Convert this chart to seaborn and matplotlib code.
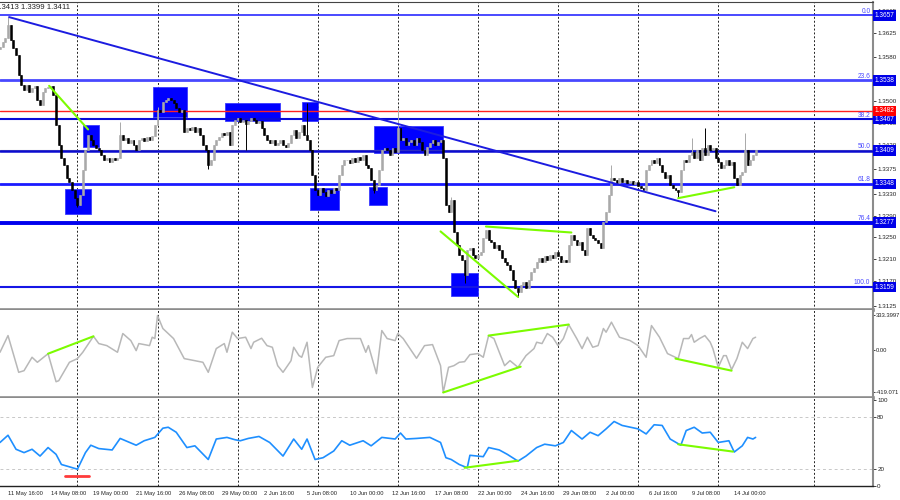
import numpy as np
import pandas as pd
import matplotlib
matplotlib.use("Agg")
import matplotlib.pyplot as plt
import matplotlib.transforms as mtransforms
from matplotlib.patches import Rectangle
import seaborn as sns

# ---------------- data ----------------
closes = [
    1.3599, 1.3608, 1.3616, 1.3640, 1.3612, 1.3597, 1.3585, 1.3548, 1.3530, 1.3520,
    1.3530, 1.3517, 1.3524, 1.3528, 1.3502, 1.3493, 1.3517, 1.3524, 1.3526, 1.3528,
    1.3511, 1.3456, 1.3420, 1.3396, 1.3383, 1.3359, 1.3352, 1.3337, 1.3322, 1.3309,
    1.3328, 1.3374, 1.3410, 1.3438, 1.3429, 1.3420, 1.3414, 1.3410, 1.3401, 1.3392,
    1.3396, 1.3388, 1.3396, 1.3392, 1.3396, 1.3438, 1.3429, 1.3432, 1.3423, 1.3429,
    1.3420, 1.3410, 1.3429, 1.3432, 1.3427, 1.3434, 1.3429, 1.3436, 1.3456, 1.3484,
    1.3480, 1.3498, 1.3502, 1.3506, 1.3502, 1.3497, 1.3487, 1.3480, 1.3484, 1.3443,
    1.3451, 1.3447, 1.3453, 1.3443, 1.3451, 1.3438, 1.3420, 1.3410, 1.3383, 1.3392,
    1.3420, 1.3429, 1.3434, 1.3441, 1.3438, 1.3443, 1.3420, 1.3456, 1.3465, 1.3469,
    1.3462, 1.3465, 1.3458, 1.3463, 1.3469, 1.3465, 1.3460, 1.3463, 1.3451, 1.3438,
    1.3429, 1.3423, 1.3429, 1.3420, 1.3423, 1.3429, 1.3420, 1.3416, 1.3423, 1.3438,
    1.3447, 1.3432, 1.3443, 1.3456, 1.3438, 1.3429, 1.3410, 1.3364, 1.3337, 1.3328,
    1.3341, 1.3333, 1.3326, 1.3337, 1.3331, 1.3341, 1.3337, 1.3364, 1.3383, 1.3392,
    1.3392, 1.3386, 1.3396, 1.3388, 1.3397, 1.3392, 1.3401, 1.3383, 1.3377, 1.3355,
    1.3337, 1.3346, 1.3374, 1.3410, 1.3414, 1.3410, 1.3401, 1.3414, 1.3407, 1.3451,
    1.3429, 1.3432, 1.3420, 1.3425, 1.3429, 1.3420, 1.3432, 1.3425, 1.3410, 1.3401,
    1.3416, 1.3423, 1.3429, 1.3420, 1.3425, 1.3429, 1.3396, 1.3309, 1.3297, 1.3319,
    1.3260, 1.3236, 1.3218, 1.3209, 1.3181, 1.3227, 1.3231, 1.3218, 1.3212, 1.3218,
    1.3223, 1.3249, 1.3264, 1.3245, 1.3242, 1.3231, 1.3236, 1.3227, 1.3212, 1.3205,
    1.3199, 1.3190, 1.3172, 1.3157, 1.3150, 1.3163, 1.3168, 1.3157, 1.3172, 1.3187,
    1.3194, 1.3205, 1.3212, 1.3205, 1.3216, 1.3209, 1.3218, 1.3212, 1.3223, 1.3216,
    1.3205, 1.3209, 1.3205, 1.3236, 1.3254, 1.3245, 1.3236, 1.3242, 1.3227, 1.3218,
    1.3267, 1.3254, 1.3249, 1.3245, 1.3240, 1.3231, 1.3278, 1.3297, 1.3328, 1.3359,
    1.3355, 1.3350, 1.3359, 1.3352, 1.3355, 1.3350, 1.3353, 1.3348, 1.3352, 1.3344,
    1.3341, 1.3337, 1.3374, 1.3383, 1.3392, 1.3386, 1.3396, 1.3383, 1.3370, 1.3359,
    1.3364, 1.3346, 1.3341, 1.3337, 1.3333, 1.3374, 1.3392, 1.3388, 1.3401, 1.3407,
    1.3396, 1.3410, 1.3392, 1.3414, 1.3401, 1.3420, 1.3410, 1.3414, 1.3396, 1.3388,
    1.3377, 1.3383, 1.3392, 1.3383, 1.3388, 1.3359, 1.3346, 1.3364, 1.3370, 1.3410,
    1.3383, 1.3392, 1.3401, 1.3411,
]
first_open = 1.3596
wick_hi_idx = [3, 45, 59, 115, 149, 169, 229, 259, 264, 279]
wick_hi_val = [1.3654, 1.3462, 1.3490, 1.3496, 1.3488, 1.3324, 1.3383, 1.3432, 1.3451, 1.3441]
wick_lo_idx = [29, 78, 92, 140, 174, 194, 254]
wick_lo_val = [1.3305, 1.3376, 1.3410, 1.3332, 1.3166, 1.3141, 1.3322]

fib_levels = [1.3657, 1.3538, 1.3467, 1.3409, 1.3348, 1.3277, 1.3159]
fib_names = ["0.0", "23.6", "38.2", "50.0", "61.8", "76.4", "100.0"]
fib_widths = [1.2, 2.0, 1.5, 1.8, 2.0, 2.8, 1.5]
red_level = 1.3482
bid_level = 1.3411
price_ticks = [1.3665, 1.3625, 1.3580, 1.3500, 1.3460, 1.3420,
               1.3375, 1.3330, 1.3290, 1.3250, 1.3210, 1.3170, 1.3125]

box_x0 = [24.3, 31.1, 57.3, 84.3, 113.1, 116.1, 138.2, 140.1, 168.9]
box_x1 = [34.1, 37.1, 70.0, 104.9, 119.1, 127.0, 144.9, 165.9, 179.0]
box_lo = [1.3293, 1.3416, 1.3471, 1.3463, 1.3463, 1.3300, 1.3309, 1.3405, 1.3143]
box_hi = [1.3339, 1.3456, 1.3526, 1.3496, 1.3498, 1.3341, 1.3343, 1.3454, 1.3185]

trend_x = [3.4, 268.0]
trend_y = [1.3654, 1.3298]

gm_x0 = [18.4, 165.0, 182.0, 254.0]
gm_y0 = [1.3528, 1.3261, 1.3270, 1.3322]
gm_x1 = [33.0, 194.0, 214.0, 275.0]
gm_y1 = [1.3448, 1.3141, 1.3259, 1.3342]

cci_idx = [0, 3, 7, 9, 12, 14, 18, 21, 22, 26, 29, 31, 35, 37, 40, 44, 46, 49, 51, 52,
           56, 57, 58, 59, 61, 65, 69, 71, 76, 78, 81, 84, 85, 87, 89, 92, 94, 95, 98, 100,
           102, 104, 106, 109, 110, 112, 113, 115, 117, 119, 122, 125, 127, 130, 135, 137, 138, 141, 143, 145,
           148, 149, 151, 156, 159, 162, 165, 166, 168, 170, 172, 174, 176, 179, 181, 183, 185, 187, 189, 191,
           194, 197, 200, 201, 203, 205, 207, 209, 211, 213, 216, 218, 220, 222, 224, 226, 227, 229, 232, 236,
           239, 242, 244, 247, 250, 254, 256, 258, 259, 260, 262, 264, 266, 267, 269, 271, 272, 274, 276, 278,
           280, 282, 283]
cci_val = [-26, 137, -222, -206, -75, -124, -40, -314, -304, -124, -88, -26, 130, 59, 39, -26, 157, 88, -10, 59,
           39, 121, 108, 333, 206, 108, -88, -98, -124, -222, 10, 59, -26, 170, 108, 121, 10, 72, 111, 39,
           23, -157, -222, -108, 23, -59, -75, 72, -370, -173, -75, -59, 88, 108, 108, -26, 39, -235, 186, 108,
           88, 157, 108, -85, 39, 49, -157, -419, -173, -157, -124, -118, -49, -39, -75, 137, 108, -26, -157, -108,
           -173, -59, 10, 72, 59, 157, 121, 39, 108, 245, 108, 10, 121, 23, 39, 206, 170, 268, 121, 88,
           39, -75, 235, 121, -39, -88, 108, 108, 147, 72, 108, 137, 72, 10, -173, -59, -59, -196, -88, 72,
           10, 108, 121]
cci_top, cci_bottom = 333.3997, -419.071
gc_x0 = [18, 166, 183, 253]
gc_y0 = [-40, -419, 137, -88]
gc_x1 = [35, 195, 213, 274]
gc_y1 = [130, -167, 245, -206]

rsi_idx = [0, 3, 6, 9, 12, 15, 18, 21, 23, 26, 29, 32, 34, 37, 42, 45, 51, 54, 58, 61,
           63, 66, 70, 73, 78, 81, 85, 88, 90, 93, 97, 101, 106, 110, 113, 115, 118, 121, 125, 128,
           131, 136, 139, 143, 148, 150, 152, 156, 161, 165, 167, 169, 172, 175, 176, 181, 183, 187, 190, 194,
           197, 201, 204, 208, 211, 214, 218, 221, 224, 227, 230, 233, 239, 242, 245, 248, 251, 255, 257, 260,
           263, 266, 269, 273, 275, 278, 280, 282, 283]
rsi_val = [50.6, 59, 42.7, 38.8, 42.7, 34.8, 44.7, 36.8, 25, 22.3, 19.5, 38.8, 47.4, 43.5, 41.9, 55.3, 47.4, 52.6, 56.5, 67.2,
           68.3, 62.5, 44.7, 46.7, 30.8, 54.6, 56.5, 53.8, 52.6, 55.3, 57.6, 50.6, 34.8, 54.6, 42.7, 54.6, 30.8, 32.9, 40.7, 52.6,
           47.4, 52.6, 46.7, 56.5, 54.6, 61.6, 54.6, 55.3, 56.5, 50.6, 32.9, 30.8, 25, 21.2, 35.7, 34.1, 44.7, 41.9, 36.8, 28.9,
           34.8, 44.7, 48.6, 46.7, 50.6, 64.5, 54.6, 62.5, 58.5, 66.4, 75, 70.4, 66.4, 60.5, 71.2, 70.4, 54.6, 47.4, 64.5, 68.3,
           61.6, 62.5, 50.6, 52.6, 39.5, 46.7, 56.5, 54.6, 56.5]
gr_x0 = [174, 254]
gr_y0 = [21.2, 48.5]
gr_x1 = [194, 274.5]
gr_y1 = [29.4, 40.0]
red_mark_x = [24.3, 33.3]
red_mark_y = 11.5

date_idx = [3, 19, 35, 51, 67, 83, 99, 115, 131, 147, 163, 179, 195, 211, 227, 243, 259, 275]
date_labels = ["11 May 16:00", "14 May 08:00", "19 May 00:00", "21 May 16:00", "26 May 08:00",
               "29 May 00:00", "2 Jun 16:00", "5 Jun 08:00", "10 Jun 00:00", "12 Jun 16:00",
               "17 Jun 08:00", "22 Jun 00:00", "24 Jun 16:00", "29 Jun 08:00", "2 Jul 00:00",
               "6 Jul 16:00", "9 Jul 08:00", "14 Jul 00:00"]
week_sep = [29, 59, 89, 119, 149, 179, 209, 239, 269, 305]
header_text = "1.3413 1.3399 1.3411"

# ---------------- style ----------------
sns.set_style("white")
plt.rcParams["font.family"] = ["Liberation Sans", "DejaVu Sans"]

W, H = 900, 500
fig = plt.figure(figsize=(9, 5), dpi=100)


def rect(x0, y0, x1, y1):
    return [x0 / W, 1 - y1 / H, (x1 - x0) / W, (y1 - y0) / H]


ax = fig.add_axes(rect(0, 2, 873, 310))
ax_c = fig.add_axes(rect(0, 310, 873, 398), sharex=ax)
ax_r = fig.add_axes(rect(0, 398, 873, 486), sharex=ax)

XMAX = 873 / 2.67
ax.set_xlim(0, XMAX)
ax.set_ylim(1.31169, 1.36817)
ax_c.set_ylim(-473, 387)
ax_r.set_ylim(0, 102.3)

FS = 4.5
TXT = "#222222"
GRAY = "#8c8c8c"

for a in (ax, ax_c, ax_r):
    a.set_facecolor("white")
    a.spines["left"].set_visible(False)
    a.spines["right"].set_color(GRAY)
    a.spines["right"].set_linewidth(1.5)
    a.spines["top"].set_visible(False)
    a.spines["bottom"].set_visible(False)
    a.yaxis.tick_right()
    a.tick_params(axis="y", length=2, width=0.6, pad=1, labelsize=FS, colors=TXT)
    for s in week_sep:
        a.axvline(s, color="#222222", lw=0.7, ls=(0, (2, 2)), zorder=1)

ax.spines["top"].set_visible(True)
ax.spines["top"].set_color("#444444")
ax.spines["top"].set_linewidth(0.8)
for a in (ax, ax_c):
    a.spines["bottom"].set_visible(True)
    a.spines["bottom"].set_color(GRAY)
    a.spines["bottom"].set_linewidth(2.6)
    a.tick_params(axis="x", bottom=False, labelbottom=False)
ax_r.spines["bottom"].set_visible(True)
ax_r.spines["bottom"].set_color("#222222")
ax_r.spines["bottom"].set_linewidth(1.0)

# ---------------- main panel ----------------
ax.set_yticks(price_ticks)
ax.set_yticklabels([f"{t:.4f}" for t in price_ticks])

for x0, x1, lo, hi in zip(box_x0, box_x1, box_lo, box_hi):
    ax.add_patch(Rectangle((x0, lo), x1 - x0, hi - lo, facecolor="#0000ff",
                           edgecolor="#3a3aff", lw=0.6, zorder=2))

idx = np.arange(len(closes))
c = np.array(closes)
o = np.concatenate([[first_open], c[:-1]])
hi = np.maximum(o, c)
lo = np.minimum(o, c)
hi[wick_hi_idx] = np.maximum(hi[wick_hi_idx], wick_hi_val)
lo[wick_lo_idx] = np.minimum(lo[wick_lo_idx], wick_lo_val)
bull = c >= o
col = np.where(bull, "#a9a9a9", "#000000")
ax.vlines(idx, lo, hi, colors=col, lw=0.7, zorder=4)
ax.bar(idx, c - o, bottom=o, width=0.72, color=col, edgecolor=col, lw=0.4, zorder=5)

fib_colors = ["#2a2aff", "#4848ff", "#0a0ad8", "#0a0ad0", "#1a1aff", "#0000ee", "#1616e6"]
ax.axhline(bid_level, color="#9a9a9a", lw=0.8, zorder=3)
for lvl, w, cl in zip(fib_levels, fib_widths, fib_colors):
    ax.axhline(lvl, color=cl, lw=w, zorder=3)
ax.axhline(red_level, color="#ff2020", lw=1.0, zorder=3)
ax.plot(trend_x, trend_y, color="#1c1ce0", lw=1.4, zorder=6)
for x0, y0, x1, y1 in zip(gm_x0, gm_y0, gm_x1, gm_y1):
    ax.plot([x0, x1], [y0, y1], color="#7cfc00", lw=1.5, zorder=7)

blend = mtransforms.blended_transform_factory(ax.transAxes, ax.transData)
for lvl, nm in zip(fib_levels, fib_names):
    ax.text(0.997, lvl + 0.0001, nm, transform=blend, ha="right", va="bottom",
            fontsize=FS + 0.3, color="#4a4aff", zorder=8)
for lvl in fib_levels:
    ax.text(1.002, lvl, f"{lvl:.4f}", transform=blend, ha="left", va="center",
            fontsize=FS + 0.2, color="white", clip_on=False, zorder=10,
            bbox=dict(boxstyle="square,pad=0.28", fc="#0000e8", ec="none"))
ax.text(1.002, red_level, f"{red_level:.4f}", transform=blend, ha="left", va="center",
        fontsize=FS + 0.2, color="white", clip_on=False, zorder=10,
        bbox=dict(boxstyle="square,pad=0.28", fc="#ff0000", ec="none"))

fig.text(-5 / W, 1 - 7.5 / H, header_text, fontsize=5.6, color="#222222", va="center", ha="left")

# ---------------- CCI panel ----------------
cci_df = pd.DataFrame({"bar": cci_idx, "cci": cci_val})
sns.lineplot(data=cci_df, x="bar", y="cci", ax=ax_c, color="#b8b8b8", lw=1.1,
             estimator=None, sort=False, zorder=4)
for x0, y0, x1, y1 in zip(gc_x0, gc_y0, gc_x1, gc_y1):
    ax_c.plot([x0, x1], [y0, y1], color="#7cfc00", lw=1.5, zorder=5)
ax_c.set_yticks([cci_top, 0, cci_bottom])
ax_c.set_yticklabels(["333.3997", "0.00", "-419.071"])
ax_c.tick_params(axis="y", length=1.5, pad=0.6, labelsize=4.2)
ax_c.set_xlabel("")
ax_c.set_ylabel("")

# ---------------- RSI panel ----------------
rsi_df = pd.DataFrame({"bar": rsi_idx, "rsi": rsi_val})
ax_r.axhline(80, color="#c8c8c8", lw=0.7, ls=(0, (3, 3)), zorder=2)
ax_r.axhline(20, color="#c8c8c8", lw=0.7, ls=(0, (3, 3)), zorder=2)
sns.lineplot(data=rsi_df, x="bar", y="rsi", ax=ax_r, color="#1e8fff", lw=1.2,
             estimator=None, sort=False, zorder=4)
for x0, y0, x1, y1 in zip(gr_x0, gr_y0, gr_x1, gr_y1):
    ax_r.plot([x0, x1], [y0, y1], color="#7cfc00", lw=1.5, zorder=5)
ax_r.plot(red_mark_x, [red_mark_y, red_mark_y], color="#ff3b3b", lw=2.0, zorder=5)
ax_r.set_yticks([100, 80, 20, 0])
ax_r.set_yticklabels(["100", "80", "20", "0"])
ax_r.set_ylabel("")
ax_r.set_xlabel("")
ax_r.set_xticks(date_idx)
ax_r.set_xticklabels(date_labels)
ax_r.tick_params(axis="x", length=2, width=0.6, pad=1.5, labelsize=4.15, colors=TXT)
for lab in ax_r.get_xticklabels():
    lab.set_horizontalalignment("left")
ax_r.set_xlim(0, XMAX)

fig.savefig("out.png", dpi=100, facecolor="white")
